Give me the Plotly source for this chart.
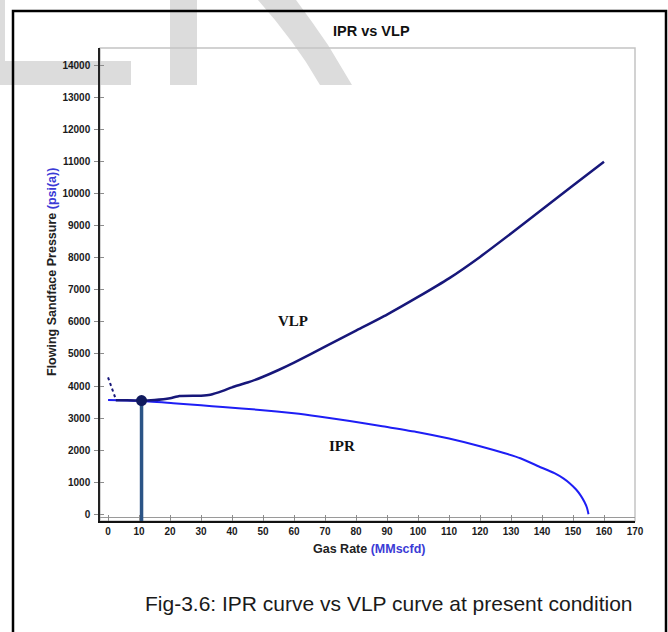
import plotly.graph_objects as go

# Vertical lift performance (tubing) curve
vlp_rate = [2.5, 5, 10, 15, 20, 23, 30, 33, 37, 40, 45, 50, 55, 60, 70, 80, 90, 100, 110, 120, 130, 140, 150, 160]
vlp_pres = [3560, 3555, 3545, 3565, 3620, 3690, 3700, 3730, 3850, 3960, 4110, 4290, 4500, 4730, 5230, 5730, 6230, 6780, 7360, 8030, 8760, 9510, 10260, 11000]

# Unstable low-rate part of the VLP curve (dotted)
vlp_low_rate = [0, 2.5]
vlp_low_pres = [4270, 3585]

# Inflow performance relationship (reservoir) curve
ipr_rate = [0, 10, 21, 30, 37, 49, 60, 68, 78, 88, 100, 110, 120, 128, 133, 139, 144, 147, 149, 151, 152.5, 153.7, 154.5, 155]
ipr_pres = [3565, 3540, 3465, 3400, 3345, 3255, 3150, 3050, 2910, 2750, 2560, 2360, 2120, 1900, 1745, 1490, 1280, 1110, 960, 770, 580, 380, 200, 0]

# Operating point (IPR / VLP intersection)
op_rate = [10.8]
op_pres = [3545]

x_ticks = list(range(0, 171, 10))
y_ticks = list(range(0, 14001, 1000))

X_RANGE = [-2.6, 170]
Y_RANGE = [-212, 14549]

W, H = 668, 632
PL, PR, PT, PB = 100, 635, 48, 521   # plot area in pixels


def px(x):
    return (x - PL) / (PR - PL)


def py(y):
    return (PB - y) / (PB - PT)


def poly(points):
    return "M " + " L ".join(f"{px(a):.4f},{py(b):.4f}" for a, b in points) + " Z"


FONT = "Arial, Liberation Sans, sans-serif"
SERIF = "Liberation Serif, Times New Roman, serif"
NAVY = "#17177a"
BLUE = "#1e1ef5"

fig = go.Figure()

fig.add_trace(go.Scatter(x=vlp_low_rate, y=vlp_low_pres, mode="lines",
                         line=dict(color=NAVY, width=2, dash="dot"), hoverinfo="skip"))
fig.add_trace(go.Scatter(x=ipr_rate, y=ipr_pres, mode="lines",
                         line=dict(color=BLUE, width=2, shape="spline", smoothing=0.6), name="IPR"))
fig.add_trace(go.Scatter(x=vlp_rate, y=vlp_pres, mode="lines",
                         line=dict(color=NAVY, width=2.5, shape="spline", smoothing=0.5), name="VLP"))
# drop line from the operating point to the rate axis
fig.add_trace(go.Scatter(x=[op_rate[0], op_rate[0]], y=[op_pres[0], Y_RANGE[0]], mode="lines",
                         line=dict(color="#2b5486", width=3.5), hoverinfo="skip"))
fig.add_trace(go.Scatter(x=op_rate, y=op_pres, mode="markers",
                         marker=dict(color="#101a5e", size=11), name="Operating point"))
# carrier for the inner tick marks of the pressure axis
fig.add_trace(go.Scatter(x=[None], y=[None], yaxis="y2", hoverinfo="skip"))

shapes = []
# light background watermark strokes
wm = "#dcdcdc"
for pts in [
    [(0, 0), (5, 0), (5, 61), (131, 61), (131, 85), (0, 85)],
    [(170, 0), (197, 0), (197, 85), (170, 85)],
    [(258, 0), (296, 0), (312, 22), (328, 45), (340, 65), (352, 85), (320, 85),
     (306, 62), (292, 42), (275, 20)],
]:
    shapes.append(dict(type="path", xref="paper", yref="paper", path=poly(pts),
                       fillcolor=wm, line=dict(width=0), layer="below"))
# plot frame
shapes.append(dict(type="rect", xref="paper", yref="paper", x0=0, x1=1, y0=0, y1=1,
                   line=dict(color="#c4c4c4", width=1.5), layer="below"))
# grey base line just above the rate axis
shapes.append(dict(type="line", xref="paper", yref="paper", x0=0, x1=1, y0=py(517.5), y1=py(517.5),
                   line=dict(color="#9a9a9a", width=1), layer="below"))
# outer figure border
shapes.append(dict(type="rect", xref="paper", yref="paper", x0=px(13), x1=px(666), y0=py(645), y1=py(11),
                   line=dict(color="black", width=2.5), layer="above"))


def note(text, x, y, size, color="#111", family=FONT, angle=0):
    return dict(text=text, xref="paper", yref="paper", x=px(x), y=py(y),
                xanchor="center", yanchor="middle", textangle=angle, showarrow=False,
                font=dict(family=family, size=size, color=color))


annotations = [
    note("<b>IPR vs VLP</b>", 371, 31, 14.5),
    note("<b>Gas Rate <span style='color:#3b3bd6'>(MMscfd)</span></b>", 370, 549, 12.5, "#222"),
    note("<b>Flowing Sandface Pressure <span style='color:#3b3bd6'>(psi(a))</span></b>", 52, 272, 12.5,
         "#222", angle=-90),
    dict(text="<b>VLP</b>", x=59.8, y=6030, xanchor="center", yanchor="middle", showarrow=False,
         font=dict(family=SERIF, size=15, color="#111")),
    dict(text="<b>IPR</b>", x=75.6, y=2130, xanchor="center", yanchor="middle", showarrow=False,
         font=dict(family=SERIF, size=15, color="#111")),
    note("Fig-3.6: IPR curve vs VLP curve at present condition", 389, 603, 21, "#1a1a1a"),
]

tickfont = dict(family=FONT, size=10, color="#1a1a1a", weight="bold")

fig.update_layout(
    width=W, height=H,
    margin=dict(l=PL, r=W - PR, t=PT, b=H - PB, pad=0),
    paper_bgcolor="white", plot_bgcolor="rgba(0,0,0,0)",
    showlegend=False,
    shapes=shapes, annotations=annotations,
    xaxis=dict(range=X_RANGE, tickvals=x_ticks, ticktext=[str(v) for v in x_ticks],
               showgrid=False, zeroline=False,
               showline=True, linecolor="#111", linewidth=2,
               ticks="inside", ticklen=6, tickcolor="#8c8c8c", tickwidth=1,
               tickfont=tickfont, ticklabelstandoff=0),
    yaxis=dict(range=Y_RANGE, tickvals=y_ticks, ticktext=[str(v) for v in y_ticks],
               showgrid=False, zeroline=False,
               showline=True, linecolor="#222", linewidth=1.5,
               ticks="outside", ticklen=4, tickcolor="#8c8c8c", tickwidth=1,
               tickfont=tickfont, ticklabelstandoff=2),
    yaxis2=dict(range=Y_RANGE, tickvals=y_ticks, overlaying="y", side="left",
                showgrid=False, zeroline=False, showline=False, showticklabels=False,
                ticks="inside", ticklen=4, tickcolor="#8c8c8c", tickwidth=1),
)

fig.write_html("out.html")
